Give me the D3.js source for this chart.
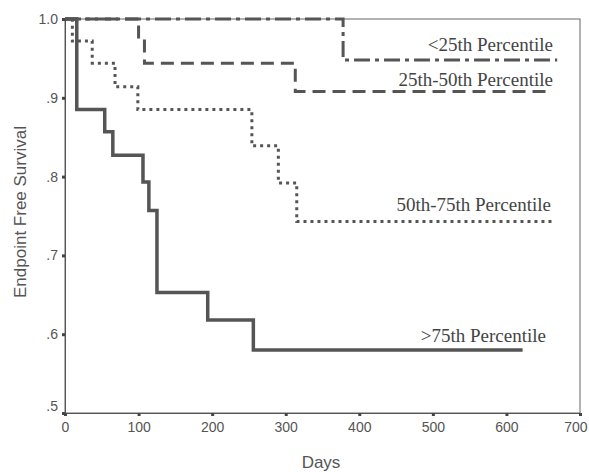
<!DOCTYPE html>
<html><head><meta charset="utf-8">
<script src="https://cdn.jsdelivr.net/npm/d3@7"></script>
<style>body{margin:0;background:#fff}svg{display:block}</style>
</head><body>
<svg id="c" width="589" height="472"></svg>
<script>
// ---- data ----
const xTicks = [0, 100, 200, 300, 400, 500, 600, 700];
const yTicks = [0.5, 0.6, 0.7, 0.8, 0.9, 1.0];
const yTickLabels = [".5", ".6", ".7", ".8", ".9", "1.0"];
const groupNames = ["<25th Percentile", "25th-50th Percentile", "50th-75th Percentile", ">75th Percentile"];
const daysLt25 = [0, 378, 669];
const survLt25 = [1.0, 0.948, 0.948];
const days25_50 = [0, 100, 108, 313, 661];
const surv25_50 = [1.0, 0.972, 0.944, 0.908, 0.908];
const days50_75 = [0, 10, 37, 68, 99, 254, 290, 315, 663];
const surv50_75 = [1.0, 0.972, 0.944, 0.914, 0.885, 0.839, 0.792, 0.743, 0.743];
const daysGt75 = [0, 16, 54, 65, 106, 114, 125, 194, 256, 622];
const survGt75 = [1.0, 0.885, 0.857, 0.827, 0.793, 0.757, 0.653, 0.618, 0.580, 0.580];
const labelPos = [ [553, 0.9594], [553, 0.915], [551, 0.756], [546, 0.590] ]; // [x-px anchor end, y value]

// ---- chart ----
const svg = d3.select("#c");
const x = d3.scaleLinear().domain([0, 700]).range([65, 580]);
const y = d3.scaleLinear().domain([0.5, 1.0]).range([413, 19]);
const col = "#555";
const sans = "Arial, 'Liberation Sans', sans-serif";

// frame
svg.append("rect").attr("x", x(0)).attr("y", y(1)).attr("width", x(700) - x(0)).attr("height", y(0.5) - y(1))
  .attr("fill", "none").attr("stroke", "#666").attr("stroke-width", 1);

// axes
const gx = svg.append("g").attr("transform", `translate(0,${y(0.5)})`)
  .call(d3.axisBottom(x).tickValues(xTicks).tickSize(3).tickPadding(6).tickFormat(d3.format("d")));
const gy = svg.append("g").attr("transform", `translate(${x(0)},0)`)
  .call(d3.axisLeft(y).tickValues(yTicks).tickSize(3).tickPadding(4).tickFormat((d, i) => yTickLabels[i]));
[gx, gy].forEach(g => {
  g.select(".domain").attr("stroke", "#555");
  g.selectAll(".tick line").attr("stroke", "#444").attr("stroke-width", 3);
  g.selectAll("text").attr("fill", "#555").style("font-family", sans).style("font-size", "14px");
});
gx.selectAll(".tick").filter(d => d === 700).select("text").attr("text-anchor", "end").attr("dx", "7px");
gy.selectAll(".tick").filter(d => d === 0.5).select("text").attr("dy", "-0.2em");

// axis titles
svg.append("text").attr("x", 321).attr("y", 468).attr("text-anchor", "middle")
  .attr("fill", "#555").style("font-family", sans).style("font-size", "17px").text("Days");
svg.append("text").attr("transform", "translate(26,212) rotate(-90)").attr("text-anchor", "middle")
  .attr("fill", "#555").style("font-family", sans).style("font-size", "17px").text("Endpoint Free Survival");

// curves
const line = d3.line().x(d => x(d[0])).y(d => y(d[1])).curve(d3.curveStepAfter);
const series = [
  {d: d3.zip(daysLt25, survLt25), dash: "16,5,4,5", w: 3},
  {d: d3.zip(days25_50, surv25_50), dash: "13,7", w: 3},
  {d: d3.zip(days50_75, surv50_75), dash: "3,4", w: 3},
  {d: d3.zip(daysGt75, survGt75), dash: null, w: 3.5}
];
series.forEach(s => {
  svg.append("path").attr("d", line(s.d)).attr("fill", "none").attr("stroke", col)
    .attr("stroke-width", s.w).attr("stroke-dasharray", s.dash);
});

// labels
groupNames.forEach((n, i) => {
  svg.append("text").attr("x", labelPos[i][0]).attr("y", y(labelPos[i][1])).attr("text-anchor", "end")
    .attr("fill", "#444").style("font-family", "'Liberation Serif', 'Times New Roman', serif").style("font-size", "19px").text(n);
});
</script>
</body></html>
